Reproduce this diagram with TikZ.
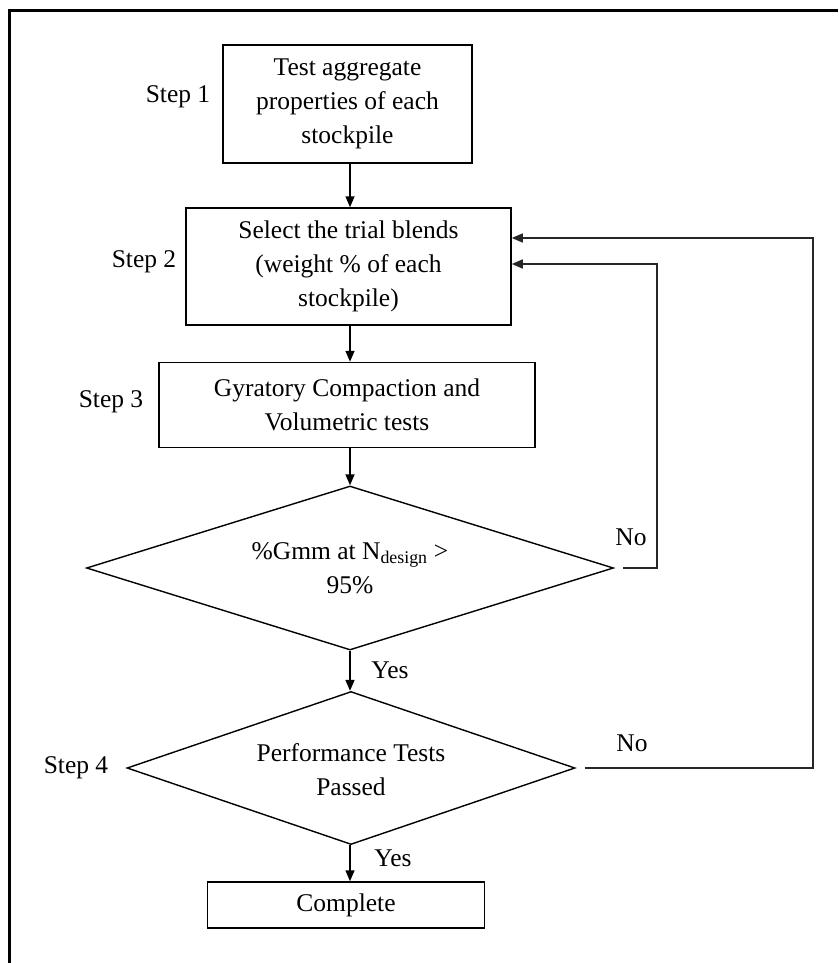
\documentclass[tikz,border=0pt]{standalone}
\usepackage{fontspec}
\setmainfont{Liberation Serif}
\usetikzlibrary{shapes.geometric,arrows.meta}

\begin{document}
\begin{tikzpicture}[x=1pt,y=-1pt,
  every node/.style={font=\fontsize{25.5}{34}\selectfont, inner sep=0pt},
  stepbox/.style={draw, line width=1.5pt, align=center},
  decision/.style={draw, diamond, aspect=3.2, line width=1.4pt, align=center},
  flow/.style={line width=1.5pt, -{Triangle[length=11pt,width=9pt]}},
  loopline/.style={line width=1.5pt, draw=black!85, -{Triangle[length=11pt,width=9pt]}},
  steplabel/.style={anchor=center},
]
\useasboundingbox (0,0) rectangle (838,963);

% outer frame (top and left edges)
\draw[line width=2.5pt, line join=miter] (9.3,963) -- (9.3,10.3) -- (838,10.3);

% process boxes
\node[stepbox, minimum width=249pt, minimum height=118pt] (b1) at (347.5,104)
  {Test aggregate\\properties of each\\stockpile};
\node[stepbox, minimum width=325pt, minimum height=117pt] (b2) at (348.5,266.5)
  {Select the trial blends\\(weight \% of each\\stockpile)};
\node[stepbox, minimum width=376pt, minimum height=85pt] (b3) at (347,405)
  {Gyratory Compaction and\\Volumetric tests};

% decisions
\node[decision, minimum width=527pt, minimum height=164pt] (d1) at (350,568) {};
\node (d1t) at (350,568.5) [align=center]
  {\%Gmm at N\textsubscript{design} >\\95\%};
\node[decision, minimum width=448pt, minimum height=153pt] (d2) at (351,768) {};
\node (d2t) at (351,770) [align=center] {Performance Tests\\Passed};

% final box
\node[stepbox, minimum width=277pt, minimum height=46pt] (done) at (346,905) {Complete};

% step labels
\node[steplabel] (s1) at (178,97) {Step 1};
\node[steplabel] (s2) at (144,262) {Step 2};
\node[steplabel] (s3) at (111,402) {Step 3};
\node[steplabel] (s4) at (76,768) {Step 4};

% main flow
\draw[flow] (b1.south -| 350,0) -- (b2.north -| 350,0);
\draw[flow] (b2.south -| 350,0) -- (b3.north -| 350,0);
\draw[flow] (b3.south -| 350,0) -- (d1.north -| 350,0);
\draw[flow] (d1.south) -- (d2.north -| d1.south);
\draw[flow] (d2.south -| 350,0) -- (done.north -| 350,0);

% branch labels
\node (y1) at (390,670) {Yes};
\node (y2) at (393,858) {Yes};
\node (n1) at (631,537) {No};
\node (n2) at (632,743) {No};

% feedback loops
\coordinate (r1) at (657,0);
\coordinate (r2) at (813,0);
\draw[loopline] ([xshift=9pt]d1.east) -- (d1.east -| r1) |- ([yshift=2.5pt]b2.east);
\draw[loopline] ([xshift=9pt]d2.east) -- (d2.east -| r2) |- ([yshift=28.5pt]b2.east);
\end{tikzpicture}
\end{document}
